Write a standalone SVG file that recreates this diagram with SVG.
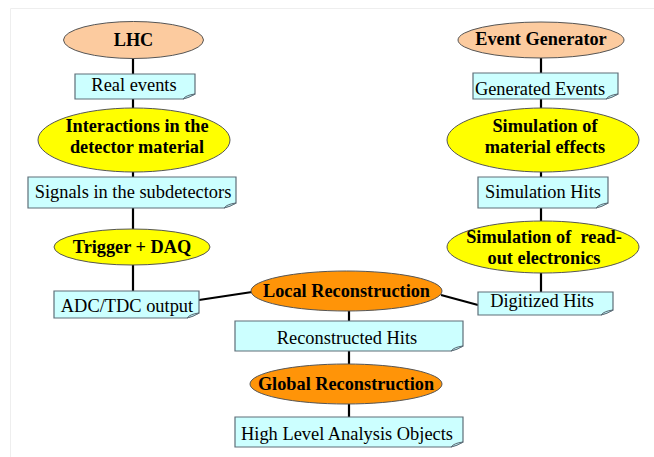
<svg xmlns="http://www.w3.org/2000/svg" width="654" height="457" viewBox="0 0 654 457">
<style>
.e{stroke:#555;stroke-width:1}
.peach{fill:#FCCB9F}
.yel{fill:#FFFF00}
.org{fill:#FF9408}
.b{fill:#CCFFFF;stroke:#5E6E78;stroke-width:1.2}
.f{fill:#B8E8EE;stroke:#5E6E78;stroke-width:1}
.c{stroke:#000;stroke-width:2.2;fill:none}
.tb{font-family:"Liberation Serif","Times New Roman",serif;font-weight:bold;font-size:18.3px;text-anchor:middle;fill:#000}
.tr{font-family:"Liberation Serif","Times New Roman",serif;font-size:18.4px;text-anchor:middle;fill:#000}
</style>
<rect width="654" height="457" fill="#fff"/>
<path d="M10.5 457 V8.5 H654" fill="none" stroke="#EEEEEE" stroke-width="1"/>
<g id="connectors">
<line class="c" x1="133" y1="58" x2="133" y2="74"/>
<line class="c" x1="133" y1="99" x2="133" y2="108"/>
<line class="c" x1="133" y1="172" x2="133" y2="177"/>
<line class="c" x1="133" y1="208" x2="133" y2="229"/>
<line class="c" x1="133" y1="265" x2="133" y2="291"/>
<line class="c" x1="541" y1="58" x2="541" y2="73"/>
<line class="c" x1="541" y1="99" x2="541" y2="108"/>
<line class="c" x1="541" y1="172" x2="541" y2="177"/>
<line class="c" x1="541" y1="208" x2="541" y2="221"/>
<line class="c" x1="541" y1="273" x2="541" y2="292"/>
<line class="c" x1="199" y1="300" x2="252" y2="292"/>
<line class="c" x1="441" y1="295" x2="478" y2="305"/>
<line class="c" x1="349" y1="311" x2="349" y2="321"/>
<line class="c" x1="349" y1="351" x2="349" y2="364"/>
<line class="c" x1="349" y1="404" x2="349" y2="417"/>
</g>
<g id="lhc"><ellipse class="e peach" cx="133.5" cy="40" rx="70" ry="18.5"/><text class="tb" x="133.5" y="46">LHC</text></g>
<g id="real-events"><path class="b" d="M75 74 H195 V94 L183 99 H75 Z"/><path class="f" d="M183 99 Q186 95 195 94 Q189 98 183 99 Z"/><text class="tr" x="134" y="91">Real events</text></g>
<g id="interactions"><ellipse class="e yel" cx="134" cy="140" rx="96" ry="32"/><text class="tb" x="137" y="132">Interactions in the</text><text class="tb" x="137" y="153">detector material</text></g>
<g id="signals"><path class="b" d="M28 177 H236 V203 L224 208 H28 Z"/><path class="f" d="M224 208 Q227 204 236 203 Q230 207 224 208 Z"/><text class="tr" x="133" y="198">Signals in the subdetectors</text></g>
<g id="trigger"><ellipse class="e yel" cx="132" cy="247" rx="78" ry="18"/><text class="tb" x="132" y="253">Trigger + DAQ</text></g>
<g id="adc"><path class="b" d="M54 291 H199 V313 L187 318 H54 Z"/><path class="f" d="M187 318 Q190 314 199 313 Q193 317 187 318 Z"/><text class="tr" x="127" y="312">ADC/TDC output</text></g>
<g id="event-generator"><ellipse class="e peach" cx="541" cy="40" rx="83" ry="18"/><text class="tb" x="541" y="45">Event Generator</text></g>
<g id="generated-events"><path class="b" d="M473 73 H618 V94 L606 99 H473 Z"/><path class="f" d="M606 99 Q609 95 618 94 Q612 98 606 99 Z"/><text class="tr" x="540" y="95">Generated Events</text></g>
<g id="sim-material"><ellipse class="e yel" cx="543" cy="140" rx="96" ry="32"/><text class="tb" x="545" y="132">Simulation of</text><text class="tb" x="545" y="153">material effects</text></g>
<g id="sim-hits"><path class="b" d="M478 177 H608 V203 L596 208 H478 Z"/><path class="f" d="M596 208 Q599 204 608 203 Q602 207 596 208 Z"/><text class="tr" x="543" y="198">Simulation Hits</text></g>
<g id="sim-readout"><ellipse class="e yel" cx="543" cy="247" rx="96" ry="26"/><text class="tb" x="544" y="243">Simulation of&#160; read-</text><text class="tb" x="544" y="264">out electronics</text></g>
<g id="digitized-hits"><path class="b" d="M478 292 H613 V310 L601 315 H478 Z"/><path class="f" d="M601 315 Q604 311 613 310 Q607 314 601 315 Z"/><text class="tr" x="542" y="307">Digitized Hits</text></g>
<g id="local-reco"><ellipse class="e org" cx="346.5" cy="291" rx="95.5" ry="20"/><text class="tb" x="346.5" y="297">Local Reconstruction</text></g>
<g id="reco-hits"><path class="b" d="M235 321 H463 V346 L451 351 H235 Z"/><path class="f" d="M451 351 Q454 347 463 346 Q457 350 451 351 Z"/><text class="tr" x="347" y="344">Reconstructed Hits</text></g>
<g id="global-reco"><ellipse class="e org" cx="346" cy="384" rx="96" ry="20"/><text class="tb" x="346" y="390">Global Reconstruction</text></g>
<g id="high-level"><path class="b" d="M235 417 H463 V442 L451 447 H235 Z"/><path class="f" d="M451 447 Q454 443 463 442 Q457 446 451 447 Z"/><text class="tr" x="347" y="440">High Level Analysis Objects</text></g>
</svg>
